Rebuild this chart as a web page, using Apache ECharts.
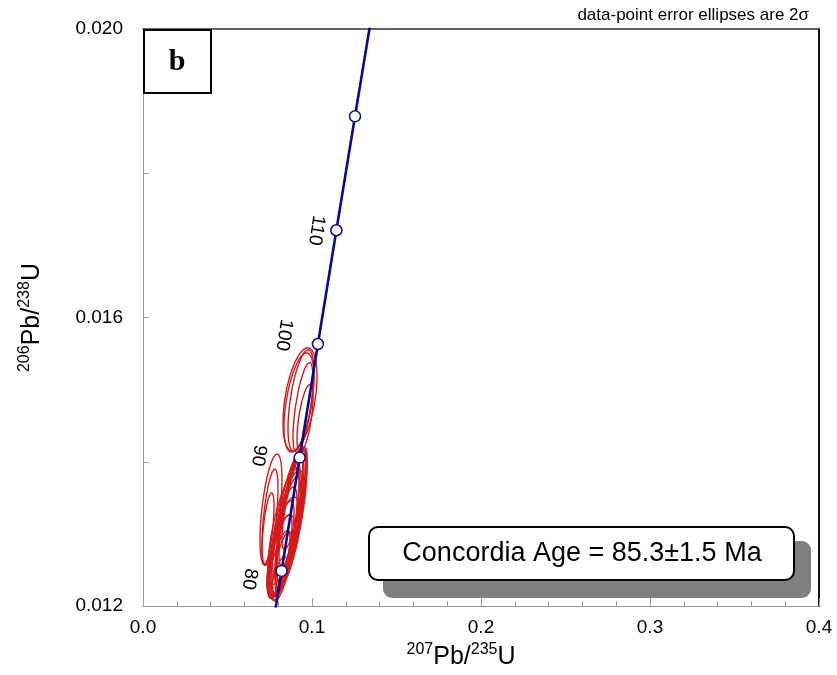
<!DOCTYPE html>
<html>
<head>
<meta charset="utf-8">
<script src="https://cdn.jsdelivr.net/npm/echarts@6/dist/echarts.min.js"></script>
<style>
html,body{margin:0;padding:0;background:#fff;}
#chart{width:837px;height:675px;}
</style>
</head>
<body>
<div id="chart"></div>
<script>
// Concordia curve (ages in Ma)
var concAge = [76, 80, 90, 100, 110, 120, 130];
var concX = [0.077721, 0.081975, 0.092683, 0.103498, 0.114419, 0.125449, 0.136588];
var concY = [0.0118593, 0.0124873, 0.0140592, 0.0156334, 0.0172102, 0.0187894, 0.0203710];

// Age markers shown as open circles
var markAge = [80, 90, 100, 110, 120];
var markX = [0.081975, 0.092683, 0.103498, 0.114419, 0.125449];
var markY = [0.0124873, 0.0140592, 0.0156334, 0.0172102, 0.0187894];
var markLabel = ['80', '90', '100', '110', ''];

// Data-point error ellipses (2 sigma): centre, half-widths and correlation
var ellX   = [0.092899, 0.093491, 0.095858, 0.094675, 0.092308, 0.075740, 0.075148, 0.073965,
              0.085799, 0.083432, 0.087574, 0.082840, 0.088757, 0.085207, 0.081657, 0.086391,
              0.081065, 0.089349, 0.080473, 0.084024, 0.080473, 0.087574, 0.081657,
              0.084615, 0.086982, 0.082840, 0.085799, 0.082249, 0.088166];
var ellY   = [0.014864, 0.014850, 0.014602, 0.014754, 0.014823, 0.013336, 0.013239, 0.013074,
              0.013143, 0.013033, 0.013267, 0.012895, 0.013377, 0.013033, 0.012799, 0.013170,
              0.012688, 0.013473, 0.012578, 0.013101, 0.012386, 0.013239, 0.012688,
              0.012964, 0.013308, 0.012826, 0.013101, 0.012551, 0.013212];
var ellSX  = [0.010059, 0.007692, 0.004734, 0.005917, 0.008876, 0.006509, 0.004734, 0.003550,
              0.009467, 0.008876, 0.008876, 0.008284, 0.008284, 0.010059, 0.007692, 0.008284,
              0.007101, 0.007101, 0.006509, 0.010059, 0.004734, 0.009467, 0.008284,
              0.008876, 0.007692, 0.009467, 0.007101, 0.005917, 0.008876];
var ellSY  = [0.000716, 0.000702, 0.000468, 0.000620, 0.000688, 0.000771, 0.000661, 0.000496,
              0.000991, 0.000895, 0.000909, 0.000757, 0.000826, 0.000854, 0.000661, 0.000991,
              0.000578, 0.000688, 0.000468, 0.000799, 0.000303, 0.000964, 0.000578,
              0.000826, 0.000854, 0.000688, 0.000895, 0.000482, 0.000936];
var ellRho = [0.45, 0.55, 0.6, 0.65, 0.5, 0.55, 0.6, 0.6,
              0.75, 0.75, 0.78, 0.75, 0.8, 0.72, 0.75, 0.8,
              0.75, 0.8, 0.75, 0.7, 0.7, 0.78, 0.65,
              0.75, 0.8, 0.7, 0.82, 0.7, 0.75];

// Axis ticks
var xTicks = {min: 0, max: 0.4, step: 0.1};
var yTicks = {min: 0.012, max: 0.020, step: 0.004};

// screen-space placement of age labels relative to their markers (px)
var ageLabelShift = [[-32, 8], [-41, -2], [-34, -9], [-20, 0], [0, 0]];
var labelRotDeg = -99;

function toLocal(d) {
  var a = -labelRotDeg * Math.PI / 180;
  var ux = [Math.cos(a), Math.sin(a)], uy = [-Math.sin(a), Math.cos(a)];
  return [d[0] * ux[0] + d[1] * ux[1], d[0] * uy[0] + d[1] * uy[1]];
}

var chart = echarts.init(document.getElementById('chart'));

var concData = concX.map(function (x, i) { return [x, concY[i]]; });
var markData = markX.map(function (x, i) {
  return {
    value: [x, markY[i]],
    label: {show: markLabel[i] !== '', formatter: markLabel[i], offset: toLocal(ageLabelShift[i])}
  };
});
var ellData = ellX.map(function (x, i) { return [x, ellY[i], ellSX[i], ellSY[i], ellRho[i]]; });

var font = 'Liberation Sans, Arial, sans-serif';
var titleRich = {
  main: {fontFamily: font, fontSize: 25, color: '#000', lineHeight: 28, verticalAlign: 'bottom'},
  sup: {fontFamily: font, fontSize: 16, color: '#000', lineHeight: 22, verticalAlign: 'top'}
};

var option = {
  backgroundColor: '#fff',
  animation: false,
  grid: {left: 143, top: 29, right: 18, bottom: 65},
  xAxis: [{
    type: 'value', min: xTicks.min, max: xTicks.max, interval: xTicks.step,
    axisLine: {lineStyle: {color: '#999', width: 1}},
    axisTick: {inside: true, length: 8, lineStyle: {color: '#999'}},
    minorTick: {show: true, splitNumber: 5, length: 5, lineStyle: {color: '#999'}},
    splitLine: {show: false},
    axisLabel: {fontFamily: font, fontSize: 19, color: '#000', margin: 12,
      formatter: function (v) { return v.toFixed(1); }},
    name: '{sup|207}{main|Pb/}{sup|235}{main|U}',
    nameLocation: 'middle', nameGap: 31,
    nameTextStyle: {padding: [0, 40, 0, 0], rich: titleRich}
  }, {
    type: 'value', position: 'top', min: xTicks.min, max: xTicks.max,
    axisLine: {show: true, onZero: false, lineStyle: {color: '#333', width: 1.5}},
    axisTick: {show: false}, axisLabel: {show: false}, splitLine: {show: false}
  }],
  yAxis: [{
    type: 'value', min: yTicks.min, max: yTicks.max, interval: yTicks.step,
    axisLine: {show: true, lineStyle: {color: '#999', width: 1}},
    axisTick: {show: true, inside: true, length: 6, lineStyle: {color: '#999'}},
    minorTick: {show: true, splitNumber: 2, length: 6, lineStyle: {color: '#999'}},
    splitLine: {show: false},
    axisLabel: {fontFamily: font, fontSize: 19, color: '#000', margin: 20,
      formatter: function (v) { return v.toFixed(3); }},
    name: '{sup|206}{main|Pb/}{sup|238}{main|U}',
    nameLocation: 'middle', nameGap: 98, nameRotate: 90,
    nameTextStyle: {rich: titleRich}
  }, {
    type: 'value', position: 'right', min: yTicks.min, max: yTicks.max,
    axisLine: {show: true, onZero: false, lineStyle: {color: '#111', width: 2}},
    axisTick: {show: false}, axisLabel: {show: false}, splitLine: {show: false}
  }],
  series: [{
    type: 'custom',
    name: 'ellipses',
    coordinateSystem: 'cartesian2d',
    clip: true,
    z: 2,
    data: ellData,
    encode: {x: 0, y: 1},
    renderItem: function (params, api) {
      var cx = api.value(0), cy = api.value(1), sx = api.value(2), sy = api.value(3), r = api.value(4);
      var q = Math.sqrt(1 - r * r);
      var pts = [];
      for (var k = 0; k <= 90; k++) {
        var t = k / 90 * Math.PI * 2;
        var c = Math.cos(t), s = Math.sin(t);
        pts.push(api.coord([cx + sx * c, cy + sy * (r * c + q * s)]));
      }
      return {
        type: 'polygon',
        shape: {points: pts},
        style: {fill: 'rgba(0,0,0,0)', stroke: '#d41a1a', lineWidth: 1.4}
      };
    }
  }, {
    type: 'line',
    name: 'concordia',
    data: concData,
    showSymbol: false,
    symbol: 'none',
    clip: true,
    z: 3,
    lineStyle: {color: '#0a0a8c', width: 2.6}
  }, {
    type: 'scatter',
    name: 'ages',
    data: markData,
    symbol: 'circle',
    symbolSize: 11,
    z: 4,
    itemStyle: {color: '#fff', borderColor: '#0a0a8c', borderWidth: 1.5, opacity: 1},
    label: {
      show: true, position: 'inside', rotate: labelRotDeg,
      fontFamily: font, fontSize: 19, color: '#000'
    }
  }],
  graphic: [
    {
      type: 'rect', left: 143, top: 29, z: 100,
      shape: {width: 67, height: 63},
      style: {fill: '#fff', stroke: '#000', lineWidth: 2}
    },
    {
      type: 'text', z: 101, x: 177, y: 62,
      style: {text: 'b', font: 'bold 30px "Liberation Serif", "Times New Roman", serif', fill: '#000',
        textAlign: 'center', textVerticalAlign: 'middle'}
    },
    {
      type: 'text', z: 100, x: 809, y: 15,
      style: {text: 'data-point error ellipses are 2σ', font: '17px "Liberation Sans", Arial, sans-serif', fill: '#000',
        textAlign: 'right', textVerticalAlign: 'middle'}
    },
    {
      type: 'rect', z: 100, x: 383, y: 541,
      shape: {width: 428, height: 57, r: 9},
      style: {fill: '#808080'}
    },
    {
      type: 'rect', z: 101, x: 369, y: 527,
      shape: {width: 425, height: 53, r: 9},
      style: {fill: '#fff', stroke: '#000', lineWidth: 2}
    },
    {
      type: 'text', z: 102, x: 582, y: 554,
      style: {text: 'Concordia Age = 85.3±1.5 Ma', font: '27px "Liberation Sans", Arial, sans-serif', fill: '#000',
        textAlign: 'center', textVerticalAlign: 'middle'}
    }
  ]
};
chart.setOption(option);
</script>
</body>
</html>
